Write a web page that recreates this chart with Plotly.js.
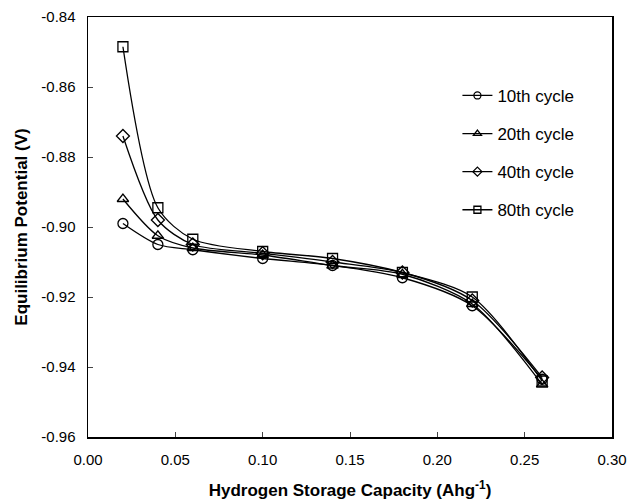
<!DOCTYPE html>
<html>
<head>
<meta charset="utf-8">
<script src="https://cdn.plot.ly/plotly-3.0.1.min.js"></script>
<style>body{margin:0;background:#fff}#chart{width:638px;height:504px}</style>
</head>
<body>
<div id="chart"></div>
<script>
const capacity = [0.02, 0.04, 0.06, 0.10, 0.14, 0.18, 0.22, 0.26];
const cycle10 = [-0.899, -0.905, -0.9065, -0.909, -0.911, -0.9145, -0.9225, -0.9435];
const cycle20 = [-0.892, -0.9025, -0.906, -0.908, -0.911, -0.9135, -0.922, -0.945];
const cycle40 = [-0.874, -0.898, -0.905, -0.9075, -0.910, -0.913, -0.921, -0.943];
const cycle80 = [-0.8485, -0.8945, -0.9035, -0.907, -0.909, -0.913, -0.920, -0.944];
const seriesNames = ["10th cycle", "20th cycle", "40th cycle", "80th cycle"];
const symbols = ["circle-open", "triangle-up-open", "diamond-open", "square-open"];
const allSeries = [cycle10, cycle20, cycle40, cycle80];
const xTickVals = [0, 0.05, 0.10, 0.15, 0.20, 0.25, 0.30];
const xTickText = ["0.00", "0.05", "0.10", "0.15", "0.20", "0.25", "0.30"];
const yTickVals = [-0.96, -0.94, -0.92, -0.90, -0.88, -0.86, -0.84];
const yTickText = ["-0.96", "-0.94", "-0.92", "-0.90", "-0.88", "-0.86", "-0.84"];

const traces = [];
allSeries.forEach((ys, i) => {
  traces.push({
    x: capacity, y: ys, name: seriesNames[i], showlegend: false,
    type: "scatter", mode: "lines+markers",
    line: {color: "#000", width: 1.3, shape: "spline", smoothing: 0.8},
    marker: {symbol: symbols[i], size: 10, color: "#000", line: {width: 1.3, color: "#000"}}
  });
});
allSeries.forEach((ys, i) => {
  traces.push({
    x: [null], y: [null], name: seriesNames[i], legendgroup: "g" + i, showlegend: true,
    type: "scatter", mode: "lines+markers",
    line: {color: "#000", width: 1.3},
    marker: {symbol: symbols[i], size: 7, color: "#000", line: {width: 1.3, color: "#000"}}
  });
});

const layout = {
  width: 638, height: 504,
  margin: {l: 88, r: 26, t: 17, b: 67},
  paper_bgcolor: "#fff", plot_bgcolor: "#fff",
  font: {family: "Liberation Sans, Arial, sans-serif", color: "#000", size: 14},
  showlegend: true,
  legend: {x: 0.705, y: 0.855, xanchor: "left", yanchor: "top", bgcolor: "rgba(0,0,0,0)",
           font: {size: 17}, tracegroupgap: 13, traceorder: "grouped", itemwidth: 30},
  xaxis: {
    range: [0, 0.30], tickvals: xTickVals, ticktext: xTickText, ticks: "inside", ticklen: 5,
    showline: true, linecolor: "#000", linewidth: 1.5, mirror: true, showgrid: false, zeroline: false,
    tickfont: {size: 15}, ticklabelstandoff: 8,
    title: {text: "<b>Hydrogen Storage Capacity (Ahg<sup>-1</sup>)</b>", font: {size: 17}, standoff: 17}
  },
  yaxis: {
    range: [-0.96, -0.84], tickvals: yTickVals, ticktext: yTickText, ticks: "inside", ticklen: 5,
    showline: true, linecolor: "#000", linewidth: 1.5, mirror: true, showgrid: false, zeroline: false,
    tickfont: {size: 15}, ticklabelstandoff: 8,
    title: {text: "<b>Equilibrium Potential (V)</b>", font: {size: 17}, standoff: 9}
  }
};
Plotly.newPlot("chart", traces, layout, {displayModeBar: false, staticPlot: true});
</script>
</body>
</html>
